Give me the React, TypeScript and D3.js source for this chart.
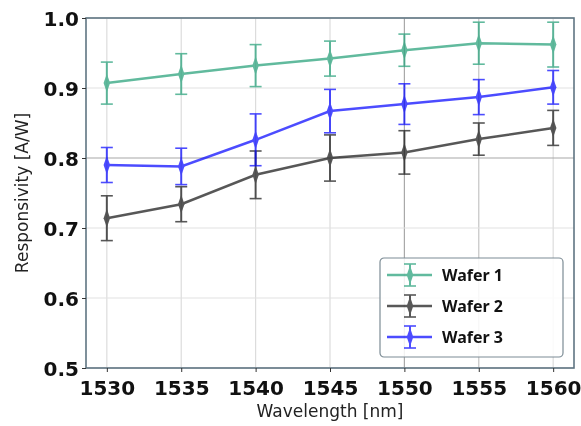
import React, { useRef, useEffect } from 'react';
import * as d3 from 'd3';

const wavelengths = [1530, 1535, 1540, 1545, 1550, 1555, 1560];
const wafer1 = [0.907, 0.920, 0.932, 0.942, 0.954, 0.964, 0.962];
const wafer1Err = [0.030, 0.029, 0.030, 0.025, 0.023, 0.030, 0.032];
const wafer2 = [0.714, 0.734, 0.776, 0.800, 0.808, 0.827, 0.843];
const wafer2Err = [0.032, 0.025, 0.034, 0.033, 0.031, 0.023, 0.025];
const wafer3 = [0.790, 0.788, 0.826, 0.867, 0.877, 0.887, 0.901];
const wafer3Err = [0.025, 0.026, 0.037, 0.031, 0.029, 0.025, 0.024];
const yTicks = [0.5, 0.6, 0.7, 0.8, 0.9, 1.0];

const series = [
  { name: 'Wafer 1', values: wafer1, err: wafer1Err, color: '#2ca37d', opacity: 0.75 },
  { name: 'Wafer 2', values: wafer2, err: wafer2Err, color: '#111111', opacity: 0.7 },
  { name: 'Wafer 3', values: wafer3, err: wafer3Err, color: '#0000ff', opacity: 0.7 },
];

const W = 581;
const H = 426;

const Chart = () => {
  const svgRef = useRef<SVGSVGElement>(null);

  useEffect(() => {
    const svg = d3.select(svgRef.current);
    svg.selectAll('*').remove();

    const margin = { top: 18, right: 7, bottom: 58, left: 86 };
    const x = d3.scaleLinear().domain([1528.6, 1561.4]).range([margin.left, W - margin.right]);
    const y = d3.scaleLinear().domain([0.5, 1.0]).range([H - margin.bottom, margin.top]);

    // grid
    const grid = svg.append('g');
    grid.selectAll('.vg')
      .data(wavelengths)
      .enter()
      .append('line')
      .attr('x1', d => x(d)).attr('x2', d => x(d))
      .attr('y1', y(0.5)).attr('y2', y(1.0))
      .attr('stroke', d => (d === 1550 ? '#a8a8a8' : d === 1555 ? '#c4c4c4' : '#dcdcdc'))
      .attr('stroke-width', 1.2);
    grid.selectAll('.hg')
      .data(yTicks)
      .enter()
      .append('line')
      .attr('x1', x.range()[0]).attr('x2', x.range()[1])
      .attr('y1', d => y(d)).attr('y2', d => y(d))
      .attr('stroke', d => (Math.abs(d - 0.8) < 1e-6 ? '#a8a8a8' : '#e2e2e2'))
      .attr('stroke-width', 1.2);

    const line = d3.line<number>()
      .x((_, i) => x(wavelengths[i]))
      .y(d => y(d));

    const diamond = d3.symbol().type(d3.symbolDiamond).size(65);

    series.forEach(s => {
      const g = svg.append('g').attr('opacity', s.opacity);
      g.append('path')
        .datum(s.values)
        .attr('d', line)
        .attr('fill', 'none')
        .attr('stroke', s.color)
        .attr('stroke-width', 2.5);
      s.values.forEach((v, i) => {
        const cx = x(wavelengths[i]);
        const top = y(v + s.err[i]);
        const bot = y(v - s.err[i]);
        g.append('line')
          .attr('x1', cx).attr('x2', cx).attr('y1', top).attr('y2', bot)
          .attr('stroke', s.color).attr('stroke-width', 2);
        [top, bot].forEach(cy => {
          g.append('line')
            .attr('x1', cx - 6).attr('x2', cx + 6).attr('y1', cy).attr('y2', cy)
            .attr('stroke', s.color).attr('stroke-width', 1.6);
        });
        g.append('path')
          .attr('d', diamond)
          .attr('transform', `translate(${cx},${y(v)}) scale(0.75,1.25)`)
          .attr('fill', s.color);
      });
    });

    // frame
    svg.append('rect')
      .attr('x', x.range()[0]).attr('y', y(1.0))
      .attr('width', x.range()[1] - x.range()[0])
      .attr('height', y(0.5) - y(1.0))
      .attr('fill', 'none')
      .attr('stroke', '#5f7582')
      .attr('stroke-width', 1.6);

    const xAxis = svg.append('g')
      .attr('transform', `translate(0,${y(0.5)})`)
      .call(d3.axisBottom(x).tickValues(wavelengths).tickSize(4).tickFormat(d3.format('d')));
    xAxis.select('.domain').remove();
    xAxis.selectAll('line').attr('stroke', '#333');
    xAxis.selectAll('text')
      .attr('dy', '1.0em')
      .style('font-family', 'DejaVu Sans')
      .style('font-weight', 'bold')
      .style('font-size', '20px')
      .attr('fill', '#111');

    const yAxis = svg.append('g')
      .attr('transform', `translate(${x.range()[0]},0)`)
      .call(d3.axisLeft(y).tickValues(yTicks).tickSize(4).tickFormat(d3.format('.1f')));
    yAxis.select('.domain').remove();
    yAxis.selectAll('line').attr('stroke', '#333');
    yAxis.selectAll('text')
      .attr('dy', '0.36em')
      .attr('x', -7)
      .style('font-family', 'DejaVu Sans')
      .style('font-weight', 'bold')
      .style('font-size', '20px')
      .attr('fill', '#111');

    svg.append('text')
      .attr('x', (x.range()[0] + x.range()[1]) / 2)
      .attr('y', 417)
      .attr('text-anchor', 'middle')
      .style('font-family', 'DejaVu Sans')
      .style('font-size', '17px')
      .attr('fill', '#222')
      .text('Wavelength [nm]');

    svg.append('text')
      .attr('transform', `translate(28,${(y(0.5) + y(1.0)) / 2}) rotate(-90)`)
      .attr('text-anchor', 'middle')
      .style('font-family', 'DejaVu Sans')
      .style('font-size', '17px')
      .attr('fill', '#222')
      .text('Responsivity [A/W]');

    // legend
    const lg = svg.append('g').attr('transform', 'translate(380,258)');
    lg.append('rect')
      .attr('width', 183).attr('height', 99)
      .attr('rx', 4)
      .attr('fill', 'rgba(255,255,255,0.85)')
      .attr('stroke', '#7c8c95')
      .attr('stroke-width', 1.2);
    series.forEach((s, i) => {
      const cy = 17 + i * 31;
      const e = lg.append('g').attr('opacity', s.opacity);
      e.append('line').attr('x1', 7).attr('x2', 52).attr('y1', cy).attr('y2', cy)
        .attr('stroke', s.color).attr('stroke-width', 2.5);
      e.append('line').attr('x1', 30).attr('x2', 30).attr('y1', cy - 11).attr('y2', cy + 11)
        .attr('stroke', s.color).attr('stroke-width', 2);
      [cy - 11, cy + 11].forEach(yy => {
        e.append('line').attr('x1', 24).attr('x2', 36).attr('y1', yy).attr('y2', yy)
          .attr('stroke', s.color).attr('stroke-width', 1.6);
      });
      e.append('path').attr('d', diamond)
        .attr('transform', `translate(30,${cy}) scale(0.75,1.25)`)
        .attr('fill', s.color);
      lg.append('text')
        .attr('x', 62).attr('y', cy + 6)
        .style('font-family', 'Noto Sans')
        .style('font-weight', 'bold')
        .style('font-size', '16px')
        .attr('fill', '#111')
        .text(s.name);
    });
  }, []);

  return <svg ref={svgRef} width={W} height={H} style={{ display: 'block' }}></svg>;
};

export default function App() {
  return (
    <div style={{ position: 'fixed', left: 0, top: 0, width: W, height: H, overflow: 'hidden' }}>
      <Chart />
    </div>
  );
}
